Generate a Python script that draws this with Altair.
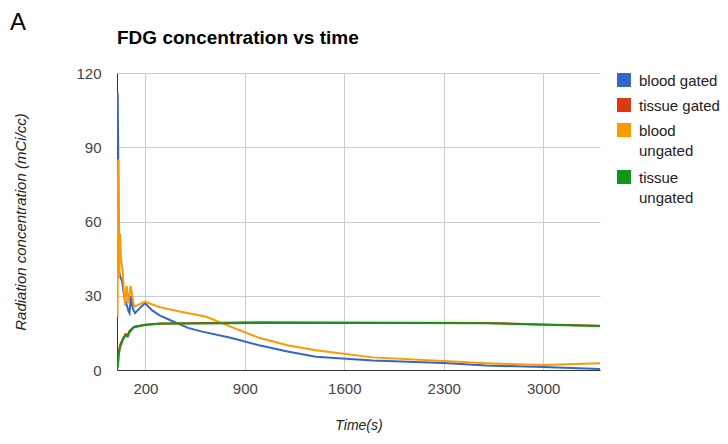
import altair as alt
import pandas as pd

series_names = ["blood gated", "tissue gated", "blood ungated", "tissue ungated"]
legend_lines = [["blood gated"], ["tissue gated"], ["blood", "ungated"], ["tissue", "ungated"]]
series_colors = ["#3366cc", "#dc3912", "#ff9900", "#109618"]

blood_gated_t = [5, 9, 14, 22, 35, 50, 65, 80, 88, 98, 110, 127, 160, 197, 250, 303, 400, 500, 600, 800, 1000, 1200, 1400, 1800, 2300, 2600, 3000, 3400]
blood_gated_v = [112, 85, 40, 38, 36, 30, 27, 24, 23, 30, 25, 23, 25, 27, 24, 22, 19.5, 17, 15.5, 13, 10, 7.5, 5.4, 3.8, 2.8, 1.8, 1.2, 0.4]

tissue_gated_t = [5, 12, 21, 40, 60, 75, 85, 100, 120, 197, 300, 600, 1000, 1500, 2000, 2600, 3000, 3400]
tissue_gated_v = [1, 7, 10, 12.5, 14.5, 14, 15.5, 16.5, 17.3, 18.2, 18.7, 19, 19.3, 19.2, 19.1, 19, 18.4, 17.9]

blood_ungated_t = [4, 8, 15, 22, 28, 40, 56, 68, 80, 96, 120, 197, 300, 450, 630, 800, 1000, 1200, 1400, 1800, 2300, 2600, 3000, 3400]
blood_ungated_v = [21.5, 85, 37, 55, 45, 40, 26, 34, 27, 34, 25.5, 27.6, 25.4, 23.5, 21.5, 17.5, 13, 10, 8, 5.1, 3.6, 2.7, 2.0, 2.7]

tissue_ungated_t = [5, 12, 21, 40, 60, 75, 85, 100, 120, 197, 300, 600, 1000, 1500, 2000, 2600, 3000, 3400]
tissue_ungated_v = [1, 6, 9, 12, 14, 13.5, 15, 16, 17.5, 18.3, 18.8, 18.8, 19, 19, 19, 18.9, 18.3, 17.8]

x_ticks = [200, 900, 1600, 2300, 3000]
y_ticks = [0, 30, 60, 90, 120]

rows = []
for name, ts, vs in [
    ("blood gated", blood_gated_t, blood_gated_v),
    ("tissue gated", tissue_gated_t, tissue_gated_v),
    ("blood ungated", blood_ungated_t, blood_ungated_v),
    ("tissue ungated", tissue_ungated_t, tissue_ungated_v),
]:
    for i, (t, v) in enumerate(zip(ts, vs)):
        rows.append({"series": name, "time": t, "value": v, "order": i})
df = pd.DataFrame(rows)

FONT = "Arial"
W, H = 483, 297

lines = alt.Chart(df).mark_line(strokeWidth=2, clip=True).encode(
    x=alt.X("time:Q", scale=alt.Scale(domain=[0, 3400], nice=False, zero=False),
            axis=alt.Axis(values=x_ticks, format="d", title="Time(s)", titleFontStyle="italic",
                          titleFontWeight="normal", titleFontSize=14, titleColor="#222",
                          titleY=55, titleBaseline="middle",
                          labelFontSize=15, labelColor="#444", labelPadding=11,
                          ticks=False, domainColor="#333", gridColor="#ccc", labelFont=FONT,
                          titleFont=FONT)),
    y=alt.Y("value:Q", scale=alt.Scale(domain=[0, 120], nice=False),
            axis=alt.Axis(values=y_ticks, title="Radiation concentration (mCi/cc)",
                          titleFontStyle="italic", titleFontWeight="normal", titleFontSize=15,
                          titleColor="#222", titleX=-97, titleY=H / 2, titleAngle=-90,
                          titleBaseline="middle", titleAlign="center",
                          labelFontSize=15, labelColor="#444", labelPadding=16,
                          ticks=False, domainColor="#333", gridColor="#ccc", labelFont=FONT,
                          titleFont=FONT)),
    color=alt.Color("series:N",
                    scale=alt.Scale(domain=series_names, range=series_colors),
                    legend=None),
    order="order:Q",
)

# manual legend (Google-chart style: square swatch, wrapped labels)
legend_layers = []
y_pos = 7
for name, lbl, col in zip(series_names, legend_lines, series_colors):
    src = pd.DataFrame({"series": [name]})
    sq = alt.Chart(src).mark_square(size=196, color=col, opacity=1).encode(
        x=alt.value(W + 24), y=alt.value(y_pos))
    tx = alt.Chart(src).mark_text(
        align="left", baseline="alphabetic", fontSize=15, font=FONT, color="#222",
        lineHeight=20).encode(x=alt.value(W + 39), y=alt.value(y_pos + 5.5),
                              text=alt.value(lbl if len(lbl) > 1 else lbl[0]))
    legend_layers += [sq, tx]
    y_pos += 25 + 22 * (len(lbl) - 1)

title = alt.Chart(pd.DataFrame({"t": ["FDG concentration vs time"]})).mark_text(
    fontSize=19, fontWeight="bold", font=FONT, align="left", baseline="alphabetic", color="#000"
).encode(text="t:N", x=alt.value(0), y=alt.value(-29))

letter = alt.Chart(pd.DataFrame({"t": ["A"]})).mark_text(
    fontSize=24, font=FONT, align="left", baseline="alphabetic", color="#000"
).encode(text="t:N", x=alt.value(-107), y=alt.value(-43))

chart = alt.layer(lines, title, letter, *legend_layers).properties(
    width=W, height=H,
    autosize=alt.AutoSizeParams(type="none"),
    padding={"left": 109, "top": 65, "right": 120, "bottom": 66},
).configure_view(stroke=None)

chart.save("out.html", embed_options={"renderer": "svg", "actions": False})
